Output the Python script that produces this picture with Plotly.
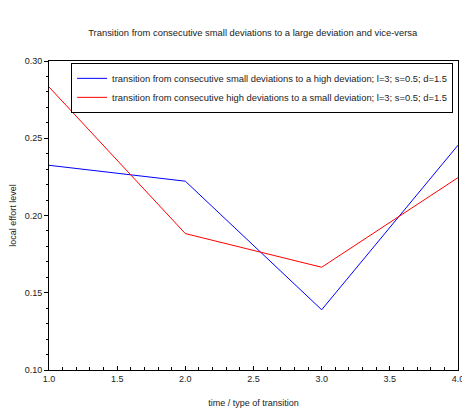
import plotly.graph_objects as go

# transition step (x) and local effort levels for each scenario
steps = [1, 2, 3, 4]
small_to_high = [0.2325, 0.2222, 0.1390, 0.2455]
high_to_small = [0.2832, 0.1883, 0.1665, 0.2245]

name_blue = "transition from consecutive small deviations to a high deviation; l=3; s=0.5; d=1.5"
name_red = "transition from consecutive high deviations to a small deviation; l=3; s=0.5; d=1.5"

font_family = "Liberation Sans, Arial, sans-serif"

fig = go.Figure()
fig.add_trace(go.Scatter(x=steps, y=small_to_high, mode="lines", name=name_blue,
                         line=dict(color="#0000ff", width=1)))
fig.add_trace(go.Scatter(x=steps, y=high_to_small, mode="lines", name=name_red,
                         line=dict(color="#ff0000", width=1)))

fig.update_layout(
    width=462, height=408,
    margin=dict(l=49, r=4, t=61, b=38, autoexpand=False),
    paper_bgcolor="white", plot_bgcolor="white",
    font=dict(family=font_family, size=9, color="#222222"),
    title=dict(text="Transition from consecutive small deviations to a large deviation and vice-versa",
               x=0.547, xanchor="center", y=0.921, yanchor="middle",
               font=dict(size=9.4, color="#222222")),
    legend=dict(x=0.988, xanchor="right", y=0.994, yanchor="top",
                bordercolor="black", borderwidth=1, bgcolor="white",
                font=dict(size=9.4), itemwidth=30, tracegroupgap=0),
    showlegend=True,
)

fig.update_xaxes(
    range=[1, 4], tickmode="linear", tick0=1, dtick=0.5, tickformat=".1f",
    showgrid=False, zeroline=False, showline=True, linecolor="black", linewidth=1,
    mirror=True, ticks="inside", ticklen=4, tickcolor="black",
    ticklabeloverflow="allow", automargin=False,
    minor=dict(dtick=0.1, ticks="inside", ticklen=3, tickcolor="black", showgrid=False),
    title=dict(text="time / type of transition", font=dict(size=9), standoff=16),
    tickfont=dict(size=9),
)
fig.update_yaxes(
    range=[0.10, 0.30], tickmode="linear", tick0=0.10, dtick=0.05, tickformat=".2f",
    showgrid=False, zeroline=False, showline=True, linecolor="black", linewidth=1,
    mirror=True, ticks="outside", ticklen=4, tickcolor="black", automargin=False,
    minor=dict(dtick=0.01, ticks="outside", ticklen=2, tickcolor="black", showgrid=False),
    title=dict(text="local effort level", font=dict(size=9), standoff=6),
    tickfont=dict(size=9),
)

fig.write_html("out.html")
